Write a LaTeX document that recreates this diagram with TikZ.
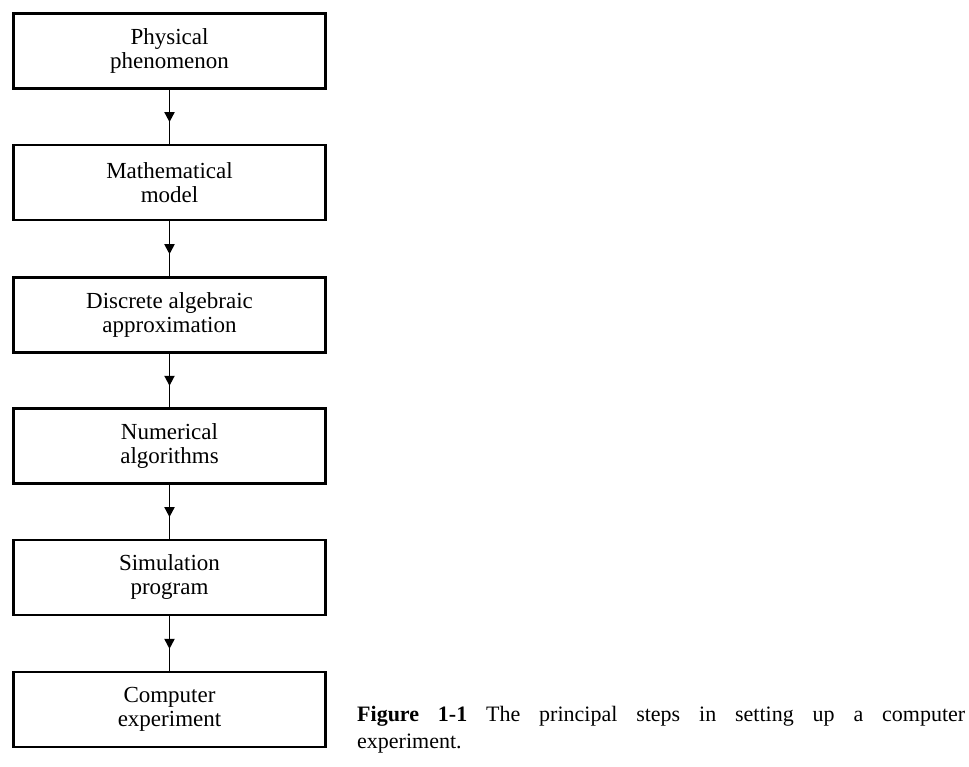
\documentclass[tikz,border=0pt]{standalone}
\usepackage{fontspec}
\setmainfont{Liberation Serif}
\usetikzlibrary{arrows.meta,decorations.markings,positioning}
\tikzset{
  stepbox/.style={draw, line width=2.6pt, minimum width=312pt, minimum height=75pt,
    align=center, inner sep=0pt, font=\fontsize{23}{24}\selectfont},
  flowarrow/.style={line width=1.8pt, decoration={markings,
    mark=at position 0.6 with {\arrow{Triangle[length=10pt,width=10pt]}}}, postaction={decorate}}
}
\begin{document}
\begin{tikzpicture}[x=1pt,y=1pt]
\useasboundingbox (0,0) rectangle (969,767);
\node[stepbox] (b1) at (169.5,716) {Physical\\phenomenon};
\node[stepbox] (b2) at (169.5,584.5) {Mathematical\\model};
\node[stepbox] (b3) at (169.5,452) {Discrete algebraic\\approximation};
\node[stepbox] (b4) at (169.5,321) {Numerical\\algorithms};
\node[stepbox] (b5) at (169.5,189.5) {Simulation\\program};
\node[stepbox] (b6) at (169.5,57.5) {Computer\\experiment};
\draw[flowarrow] (b1) -- (b2);
\draw[flowarrow] (b2) -- (b3);
\draw[flowarrow] (b3) -- (b4);
\draw[flowarrow] (b4) -- (b5);
\draw[flowarrow] (b5) -- (b6);
\node[anchor=north west, inner sep=0pt, text width=608pt, align=justify,
  font=\fontsize{22}{27}\selectfont] (cap) at (357,61)
  {\textbf{Figure 1-1} The principal steps in setting up a computer\linebreak experiment.};
\end{tikzpicture}
\end{document}
